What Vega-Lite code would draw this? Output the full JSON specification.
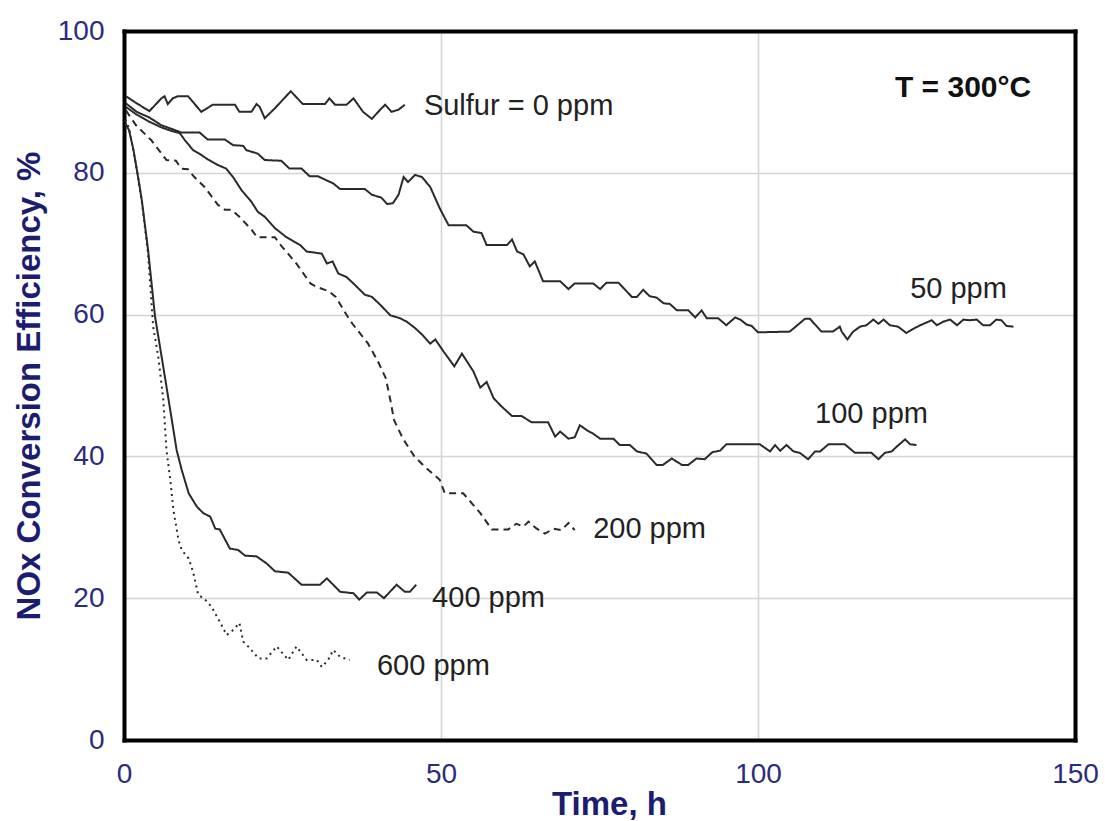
{
  "$schema": "https://vega.github.io/schema/vega-lite/v6.json",
  "width": 951,
  "height": 709,
  "autosize": {"type": "none"},
  "padding": {"left": 124, "top": 31, "right": 30, "bottom": 81},
  "background": "white",
  "config": {
    "view": {"stroke": null},
    "axis": {
      "domain": true, "domainColor": "black", "domainWidth": 4, "domainCap": "square",
      "ticks": false, "tickSize": 0, "labelFlush": false,
      "gridColor": "#d4d4d4", "gridWidth": 1.5,
      "labelFont": "Liberation Sans", "labelFontSize": 28, "labelColor": "#2b2b80",
      "titleFont": "Liberation Sans", "titleFontSize": 33, "titleFontWeight": "bold", "titleColor": "#1c1c70"
    }
  },
  "resolve": {"axis": {"x": "independent", "y": "independent"}},
  "datasets": {
    "lines": [
      {"s":"0","t":0.3,"e":90.8},{"s":"0","t":2.0,"e":89.8},{"s":"0","t":4.0,"e":88.7},{"s":"0","t":5.9,"e":90.5},{"s":"0","t":6.4,"e":90.8},{"s":"0","t":6.9,"e":89.7},{"s":"0","t":7.7,"e":90.5},{"s":"0","t":8.5,"e":90.8},{"s":"0","t":10.1,"e":90.8},{"s":"0","t":12.2,"e":88.6},{"s":"0","t":14.0,"e":89.6},{"s":"0","t":17.5,"e":89.6},{"s":"0","t":18.2,"e":88.6},{"s":"0","t":20.1,"e":88.6},{"s":"0","t":20.9,"e":89.7},{"s":"0","t":21.4,"e":89.3},{"s":"0","t":22.2,"e":87.7},{"s":"0","t":23.8,"e":89.1},{"s":"0","t":26.3,"e":91.5},{"s":"0","t":28.2,"e":89.7},{"s":"0","t":31.7,"e":89.7},{"s":"0","t":32.4,"e":90.5},{"s":"0","t":33.3,"e":89.6},{"s":"0","t":35.1,"e":89.6},{"s":"0","t":36.2,"e":90.5},{"s":"0","t":37.7,"e":88.6},{"s":"0","t":39.1,"e":87.6},{"s":"0","t":40.4,"e":88.9},{"s":"0","t":41.2,"e":89.6},{"s":"0","t":42.2,"e":88.6},{"s":"0","t":43.3,"e":88.9},{"s":"0","t":44.3,"e":89.6},

      {"s":"50","t":0.3,"e":89.8},{"s":"50","t":2.0,"e":88.6},{"s":"50","t":4.0,"e":87.8},{"s":"50","t":5.9,"e":86.7},{"s":"50","t":7.5,"e":86.2},{"s":"50","t":9.0,"e":85.7},{"s":"50","t":11.9,"e":85.7},{"s":"50","t":13.2,"e":84.7},{"s":"50","t":15.9,"e":84.7},{"s":"50","t":17.2,"e":83.9},{"s":"50","t":18.8,"e":83.8},{"s":"50","t":19.3,"e":83.2},{"s":"50","t":21.1,"e":82.7},{"s":"50","t":22.2,"e":81.8},{"s":"50","t":24.8,"e":81.7},{"s":"50","t":26.1,"e":80.6},{"s":"50","t":28.0,"e":80.6},{"s":"50","t":29.3,"e":79.5},{"s":"50","t":30.6,"e":79.5},{"s":"50","t":33.0,"e":78.5},{"s":"50","t":34.1,"e":77.7},{"s":"50","t":38.0,"e":77.7},{"s":"50","t":39.1,"e":76.9},{"s":"50","t":40.6,"e":76.5},{"s":"50","t":41.5,"e":75.6},{"s":"50","t":42.4,"e":75.7},{"s":"50","t":43.3,"e":76.9},{"s":"50","t":44.1,"e":79.4},{"s":"50","t":44.8,"e":78.7},{"s":"50","t":45.9,"e":79.7},{"s":"50","t":47.0,"e":79.4},{"s":"50","t":48.3,"e":78.0},{"s":"50","t":49.8,"e":75.0},{"s":"50","t":51.2,"e":72.6},{"s":"50","t":54.0,"e":72.6},{"s":"50","t":55.1,"e":71.7},{"s":"50","t":56.4,"e":71.5},{"s":"50","t":57.2,"e":69.8},{"s":"50","t":60.4,"e":69.8},{"s":"50","t":61.2,"e":70.6},{"s":"50","t":62.0,"e":68.9},{"s":"50","t":63.0,"e":68.5},{"s":"50","t":64.0,"e":66.8},{"s":"50","t":64.8,"e":67.5},{"s":"50","t":66.1,"e":64.7},{"s":"50","t":68.8,"e":64.7},{"s":"50","t":70.1,"e":63.6},{"s":"50","t":71.1,"e":64.4},{"s":"50","t":74.0,"e":64.4},{"s":"50","t":75.1,"e":63.6},{"s":"50","t":76.1,"e":64.5},{"s":"50","t":78.0,"e":64.5},{"s":"50","t":80.1,"e":62.5},{"s":"50","t":80.9,"e":62.5},{"s":"50","t":81.9,"e":63.5},{"s":"50","t":82.9,"e":62.6},{"s":"50","t":84.0,"e":62.4},{"s":"50","t":85.1,"e":61.6},{"s":"50","t":86.1,"e":61.5},{"s":"50","t":87.2,"e":60.6},{"s":"50","t":89.0,"e":60.6},{"s":"50","t":90.1,"e":59.6},{"s":"50","t":91.1,"e":60.6},{"s":"50","t":91.9,"e":59.5},{"s":"50","t":93.7,"e":59.5},{"s":"50","t":95.0,"e":58.5},{"s":"50","t":96.4,"e":59.6},{"s":"50","t":97.2,"e":59.3},{"s":"50","t":98.2,"e":58.6},{"s":"50","t":99.0,"e":58.4},{"s":"50","t":100.0,"e":57.5},{"s":"50","t":105.0,"e":57.6},{"s":"50","t":107.4,"e":59.4},{"s":"50","t":108.2,"e":59.4},{"s":"50","t":110.0,"e":57.6},{"s":"50","t":111.8,"e":57.6},{"s":"50","t":112.9,"e":58.3},{"s":"50","t":113.2,"e":57.6},{"s":"50","t":114.1,"e":56.5},{"s":"50","t":115.0,"e":57.6},{"s":"50","t":116.1,"e":58.3},{"s":"50","t":117.1,"e":58.5},{"s":"50","t":118.2,"e":59.3},{"s":"50","t":119.0,"e":58.7},{"s":"50","t":119.8,"e":59.3},{"s":"50","t":120.8,"e":58.5},{"s":"50","t":122.1,"e":58.3},{"s":"50","t":123.4,"e":57.4},{"s":"50","t":124.5,"e":58.0},{"s":"50","t":125.6,"e":58.5},{"s":"50","t":127.4,"e":59.2},{"s":"50","t":128.2,"e":58.5},{"s":"50","t":129.2,"e":59.0},{"s":"50","t":130.3,"e":59.3},{"s":"50","t":131.4,"e":58.5},{"s":"50","t":132.4,"e":59.3},{"s":"50","t":133.4,"e":59.2},{"s":"50","t":134.5,"e":59.3},{"s":"50","t":135.5,"e":58.5},{"s":"50","t":136.6,"e":58.5},{"s":"50","t":137.6,"e":59.3},{"s":"50","t":138.4,"e":59.2},{"s":"50","t":139.2,"e":58.4},{"s":"50","t":140.3,"e":58.3},

      {"s":"100","t":0.3,"e":89.3},{"s":"100","t":2.0,"e":88.2},{"s":"100","t":4.0,"e":87.2},{"s":"100","t":5.9,"e":86.4},{"s":"100","t":7.5,"e":85.9},{"s":"100","t":8.8,"e":85.6},{"s":"100","t":9.6,"e":84.6},{"s":"100","t":10.9,"e":83.2},{"s":"100","t":11.9,"e":82.7},{"s":"100","t":13.2,"e":81.9},{"s":"100","t":14.8,"e":81.1},{"s":"100","t":16.1,"e":80.6},{"s":"100","t":17.2,"e":79.4},{"s":"100","t":18.5,"e":77.6},{"s":"100","t":20.1,"e":75.9},{"s":"100","t":21.1,"e":74.5},{"s":"100","t":22.2,"e":73.8},{"s":"100","t":23.8,"e":72.2},{"s":"100","t":25.5,"e":71.0},{"s":"100","t":26.8,"e":70.3},{"s":"100","t":27.8,"e":69.8},{"s":"100","t":28.8,"e":68.9},{"s":"100","t":31.2,"e":68.6},{"s":"100","t":32.0,"e":67.2},{"s":"100","t":32.9,"e":67.5},{"s":"100","t":33.8,"e":65.8},{"s":"100","t":35.1,"e":65.3},{"s":"100","t":36.4,"e":64.2},{"s":"100","t":38.0,"e":62.8},{"s":"100","t":39.1,"e":62.5},{"s":"100","t":40.4,"e":61.4},{"s":"100","t":42.0,"e":59.9},{"s":"100","t":43.5,"e":59.5},{"s":"100","t":44.6,"e":59.0},{"s":"100","t":45.9,"e":58.1},{"s":"100","t":47.0,"e":57.2},{"s":"100","t":48.3,"e":55.9},{"s":"100","t":49.1,"e":56.5},{"s":"100","t":50.4,"e":54.8},{"s":"100","t":52.1,"e":52.7},{"s":"100","t":53.3,"e":54.5},{"s":"100","t":55.1,"e":52.0},{"s":"100","t":56.2,"e":49.7},{"s":"100","t":57.2,"e":50.5},{"s":"100","t":58.3,"e":48.2},{"s":"100","t":59.6,"e":47.0},{"s":"100","t":61.2,"e":45.7},{"s":"100","t":62.7,"e":45.7},{"s":"100","t":64.3,"e":44.8},{"s":"100","t":66.9,"e":44.8},{"s":"100","t":68.0,"e":42.8},{"s":"100","t":68.8,"e":43.5},{"s":"100","t":70.1,"e":42.5},{"s":"100","t":71.1,"e":42.7},{"s":"100","t":71.9,"e":44.4},{"s":"100","t":73.0,"e":43.7},{"s":"100","t":74.0,"e":43.2},{"s":"100","t":75.1,"e":42.5},{"s":"100","t":77.2,"e":42.5},{"s":"100","t":78.2,"e":41.6},{"s":"100","t":79.8,"e":41.6},{"s":"100","t":80.9,"e":40.7},{"s":"100","t":82.4,"e":40.4},{"s":"100","t":84.0,"e":38.8},{"s":"100","t":85.0,"e":38.8},{"s":"100","t":86.4,"e":39.7},{"s":"100","t":88.0,"e":38.8},{"s":"100","t":89.0,"e":38.8},{"s":"100","t":90.3,"e":39.7},{"s":"100","t":91.6,"e":39.6},{"s":"100","t":92.8,"e":40.6},{"s":"100","t":94.0,"e":40.8},{"s":"100","t":95.0,"e":41.7},{"s":"100","t":100.3,"e":41.7},{"s":"100","t":101.9,"e":40.7},{"s":"100","t":102.7,"e":41.6},{"s":"100","t":103.5,"e":40.8},{"s":"100","t":104.5,"e":41.6},{"s":"100","t":105.6,"e":40.7},{"s":"100","t":106.6,"e":40.5},{"s":"100","t":107.9,"e":39.6},{"s":"100","t":109.0,"e":40.7},{"s":"100","t":109.8,"e":40.7},{"s":"100","t":111.1,"e":41.7},{"s":"100","t":113.7,"e":41.7},{"s":"100","t":115.3,"e":40.5},{"s":"100","t":117.9,"e":40.5},{"s":"100","t":119.0,"e":39.6},{"s":"100","t":120.0,"e":40.5},{"s":"100","t":121.1,"e":40.7},{"s":"100","t":121.9,"e":41.4},{"s":"100","t":123.2,"e":42.4},{"s":"100","t":124.0,"e":41.7},{"s":"100","t":125.0,"e":41.6},

      {"s":"200","t":0.3,"e":88.8},{"s":"200","t":1.9,"e":86.7},{"s":"200","t":4.3,"e":84.6},{"s":"200","t":6.7,"e":81.8},{"s":"200","t":8.2,"e":81.7},{"s":"200","t":9.0,"e":80.6},{"s":"200","t":10.1,"e":80.5},{"s":"200","t":11.1,"e":79.4},{"s":"200","t":12.7,"e":78.0},{"s":"200","t":14.8,"e":75.5},{"s":"200","t":15.9,"e":74.8},{"s":"200","t":16.9,"e":74.8},{"s":"200","t":18.2,"e":73.8},{"s":"200","t":20.1,"e":72.0},{"s":"200","t":21.0,"e":70.9},{"s":"200","t":23.8,"e":70.9},{"s":"200","t":24.9,"e":69.6},{"s":"200","t":27.2,"e":67.2},{"s":"200","t":29.4,"e":64.4},{"s":"200","t":30.4,"e":63.9},{"s":"200","t":32.3,"e":63.3},{"s":"200","t":33.4,"e":62.5},{"s":"200","t":35.6,"e":59.2},{"s":"200","t":38.5,"e":55.9},{"s":"200","t":40.0,"e":53.5},{"s":"200","t":41.3,"e":51.0},{"s":"200","t":42.0,"e":48.0},{"s":"200","t":42.6,"e":45.1},{"s":"200","t":44.0,"e":42.5},{"s":"200","t":45.8,"e":40.0},{"s":"200","t":47.5,"e":38.5},{"s":"200","t":49.8,"e":36.7},{"s":"200","t":50.6,"e":34.8},{"s":"200","t":53.5,"e":34.8},{"s":"200","t":56.2,"e":32.0},{"s":"200","t":58.0,"e":29.7},{"s":"200","t":60.6,"e":29.7},{"s":"200","t":61.9,"e":30.5},{"s":"200","t":63.0,"e":30.1},{"s":"200","t":63.8,"e":30.8},{"s":"200","t":65.1,"e":29.8},{"s":"200","t":66.4,"e":29.1},{"s":"200","t":67.7,"e":29.8},{"s":"200","t":69.0,"e":29.6},{"s":"200","t":70.1,"e":30.6},{"s":"200","t":71.1,"e":29.6},

      {"s":"400","t":0.2,"e":87.0},{"s":"400","t":0.8,"e":86.0},{"s":"400","t":1.5,"e":83.2},{"s":"400","t":2.2,"e":79.5},{"s":"400","t":2.8,"e":76.2},{"s":"400","t":3.8,"e":69.1},{"s":"400","t":4.9,"e":59.7},{"s":"400","t":6.2,"e":52.6},{"s":"400","t":7.3,"e":46.5},{"s":"400","t":8.3,"e":40.9},{"s":"400","t":9.1,"e":38.1},{"s":"400","t":10.2,"e":34.8},{"s":"400","t":11.5,"e":32.9},{"s":"400","t":12.5,"e":32.0},{"s":"400","t":13.6,"e":31.5},{"s":"400","t":14.4,"e":29.8},{"s":"400","t":15.1,"e":29.7},{"s":"400","t":16.7,"e":27.0},{"s":"400","t":18.0,"e":26.8},{"s":"400","t":19.1,"e":26.0},{"s":"400","t":20.9,"e":25.9},{"s":"400","t":22.5,"e":24.9},{"s":"400","t":23.8,"e":23.8},{"s":"400","t":25.9,"e":23.6},{"s":"400","t":28.0,"e":21.9},{"s":"400","t":30.9,"e":21.9},{"s":"400","t":32.0,"e":22.8},{"s":"400","t":34.1,"e":20.9},{"s":"400","t":36.2,"e":20.7},{"s":"400","t":37.1,"e":19.8},{"s":"400","t":38.3,"e":20.8},{"s":"400","t":39.9,"e":20.8},{"s":"400","t":41.0,"e":20.0},{"s":"400","t":43.0,"e":21.9},{"s":"400","t":44.3,"e":20.9},{"s":"400","t":45.1,"e":20.9},{"s":"400","t":46.1,"e":21.9},

      {"s":"600","t":0.2,"e":87.5},{"s":"600","t":0.8,"e":86.3},{"s":"600","t":1.5,"e":83.0},{"s":"600","t":2.2,"e":79.5},{"s":"600","t":2.8,"e":76.0},{"s":"600","t":3.8,"e":68.5},{"s":"600","t":4.6,"e":58.3},{"s":"600","t":5.4,"e":54.1},{"s":"600","t":6.2,"e":48.0},{"s":"600","t":6.7,"e":40.9},{"s":"600","t":7.3,"e":36.7},{"s":"600","t":7.8,"e":32.4},{"s":"600","t":8.6,"e":28.2},{"s":"600","t":9.1,"e":26.8},{"s":"600","t":10.2,"e":25.6},{"s":"600","t":10.9,"e":23.7},{"s":"600","t":11.7,"e":20.5},{"s":"600","t":12.8,"e":19.8},{"s":"600","t":13.8,"e":18.8},{"s":"600","t":15.1,"e":16.7},{"s":"600","t":16.2,"e":14.8},{"s":"600","t":17.2,"e":15.5},{"s":"600","t":18.2,"e":16.5},{"s":"600","t":18.8,"e":13.9},{"s":"600","t":19.9,"e":12.9},{"s":"600","t":21.2,"e":11.5},{"s":"600","t":22.5,"e":11.5},{"s":"600","t":24.1,"e":13.2},{"s":"600","t":25.9,"e":11.3},{"s":"600","t":27.2,"e":13.2},{"s":"600","t":28.8,"e":11.3},{"s":"600","t":30.4,"e":11.3},{"s":"600","t":31.2,"e":10.3},{"s":"600","t":32.2,"e":11.3},{"s":"600","t":33.0,"e":12.7},{"s":"600","t":34.1,"e":11.7},{"s":"600","t":35.6,"e":11.3}
    ],
    "labels": [
      {"t":47.3,"e":88.2,"label":"Sulfur = 0 ppm"},
      {"t":124.0,"e":62.3,"label":"50 ppm"},
      {"t":109.0,"e":44.7,"label":"100 ppm"},
      {"t":74.0,"e":28.5,"label":"200 ppm"},
      {"t":48.6,"e":18.8,"label":"400 ppm"},
      {"t":39.9,"e":9.2,"label":"600 ppm"}
    ],
    "note": [
      {"t":121.6,"e":90.7,"label":"T = 300°C"}
    ]
  },
  "layer": [
    {
      "data": {"name": "lines"},
      "mark": {"type": "line", "stroke": "#2a2a2a", "strokeWidth": 2},
      "encoding": {
        "x": {"field": "t", "type": "quantitative",
              "scale": {"domain": [0, 150], "nice": false},
              "axis": {"orient": "bottom", "values": [0, 50, 100, 150], "grid": true, "labelPadding": 42, "labelBaseline": "alphabetic", "labelFlush": false,
                       "title": "Time, h", "titleX": 485, "titleY": 74, "titleBaseline": "alphabetic", "titleAlign": "center", "titleAngle": 0}},
        "y": {"field": "e", "type": "quantitative",
              "scale": {"domain": [0, 100], "nice": false},
              "axis": {"orient": "left", "values": [0, 20, 40, 60, 80, 100], "grid": true, "labelPadding": 20, "labelBaseline": "middle", "labelFlush": false,
                       "title": "NOx Conversion Efficiency, %", "titleX": -85, "titleY": 354.5, "titleAngle": -90, "titleBaseline": "alphabetic", "titleAlign": "center"}},
        "strokeDash": {"field": "s", "type": "nominal",
              "scale": {"domain": ["0", "50", "100", "200", "400", "600"],
                        "range": [[1, 0], [1, 0], [1, 0], [7, 5], [1, 0], [2, 4]]},
              "legend": null}
      }
    },
    {
      "data": {"name": "labels"},
      "mark": {"type": "text", "align": "left", "baseline": "alphabetic", "font": "Liberation Sans", "fontSize": 29, "color": "#222222"},
      "encoding": {
        "x": {"field": "t", "type": "quantitative", "axis": {"orient": "top", "labels": false, "title": null, "grid": false, "values": []}},
        "y": {"field": "e", "type": "quantitative", "axis": {"orient": "right", "labels": false, "title": null, "grid": false, "values": []}},
        "text": {"field": "label"}
      }
    },
    {
      "data": {"name": "note"},
      "mark": {"type": "text", "align": "left", "baseline": "alphabetic", "font": "Liberation Sans", "fontSize": 30, "fontWeight": "bold", "color": "#111111"},
      "encoding": {
        "x": {"field": "t", "type": "quantitative", "axis": null},
        "y": {"field": "e", "type": "quantitative", "axis": null},
        "text": {"field": "label"}
      }
    }
  ]
}
